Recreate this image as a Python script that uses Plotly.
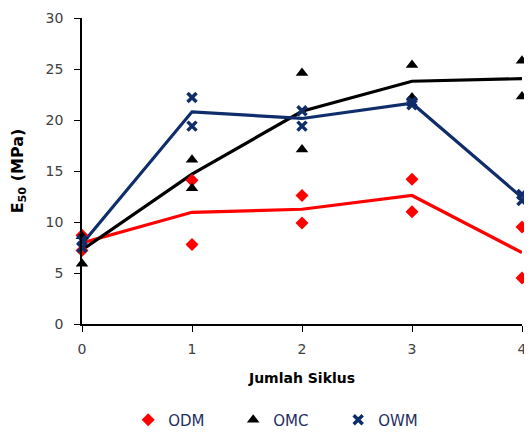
import numpy as np
import plotly.graph_objects as go

cycles = [0, 1, 2, 3, 4]
odm_a = [8.7, 14.1, 12.6, 14.2, 9.5]
odm_b = [7.2, 7.8, 9.9, 11.0, 4.5]
omc_a = [8.6, 16.1, 24.6, 25.4, 25.8]
omc_b = [5.9, 13.3, 17.1, 22.2, 22.3]
owm_a = [8.2, 22.2, 20.9, 21.8, 12.7]
owm_b = [7.5, 19.4, 19.4, 21.5, 12.1]

series = [
    ("ODM", odm_a, odm_b, "#FF0000", "diamond", 10),
    ("OMC", omc_a, omc_b, "#000000", "triangle-up", 11),
    ("OWM", owm_a, owm_b, "#0F2D6B", "x-thin-open", 9),
]

fig = go.Figure()
for name, a, b, col, sym, sz in series:
    mean = (np.array(a) + np.array(b)) / 2
    fig.add_trace(go.Scatter(x=cycles, y=mean, mode="lines",
                             line=dict(color=col, width=3.2),
                             showlegend=False, hoverinfo="skip", cliponaxis=False))
for name, a, b, col, sym, sz in series:
    xs = cycles + cycles
    ys = a + b
    fig.add_trace(go.Scatter(x=xs, y=ys, mode="markers", name=name,
                             marker=dict(symbol=sym, size=sz, color=col,
                                         line=dict(color=col, width=3.5 if "open" in sym else 0)),
                             cliponaxis=False))

font_fam = "'DejaVu Sans', sans-serif"
fig.update_layout(
    width=524, height=431,
    margin=dict(l=74, r=10, t=10, b=115, autoexpand=False),
    paper_bgcolor="white", plot_bgcolor="white",
    font=dict(family=font_fam, size=14, color="#404040"),
    showlegend=True,
    legend=dict(orientation="h", x=0.105, xanchor="left", y=-0.26, yanchor="top",
                font=dict(size=15, color="#1F2F5F"), itemwidth=30,
                entrywidth=60, entrywidthmode="pixels",
                tracegroupgap=0),
    xaxis=dict(range=[0, 4], tickvals=cycles, ticks="outside", ticklen=6,
               tickcolor="black", showline=True, linecolor="black", linewidth=1.5,
               showgrid=False, zeroline=False, automargin=False,
               ticklabelstandoff=5,
               title=dict(text="<b>Jumlah Siklus</b>", standoff=18,
                          font=dict(size=14, color="#000000"))),
    yaxis=dict(range=[0, 30], dtick=5, ticks="outside", ticklen=6,
               tickcolor="black", showline=True, linecolor="black", linewidth=1.5,
               showgrid=False, zeroline=False, automargin=False,
               ticklabelstandoff=8,
               title=dict(text="<b>E<sub>50</sub> (MPa)</b>", standoff=24,
                          font=dict(size=16, color="#000000"))),
)

fig.write_html("out.html")
